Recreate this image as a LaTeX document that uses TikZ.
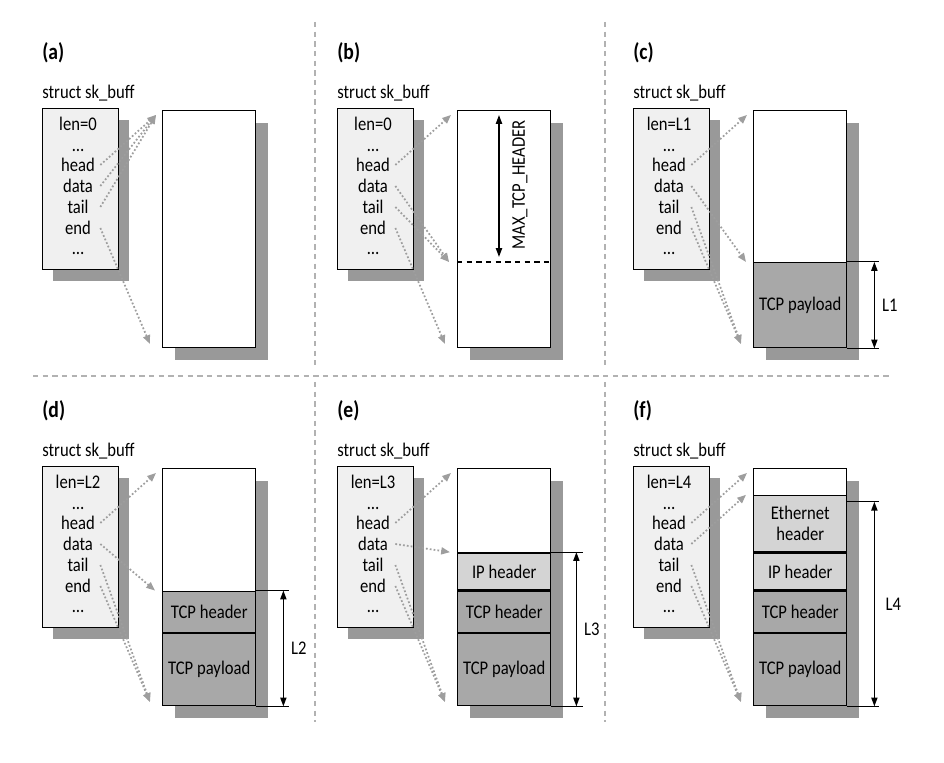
\documentclass[tikz,border=0pt]{standalone}
\usepackage{fontspec}
\setmainfont{Carlito}[FakeStretch=0.86]
\usepackage{xcolor}
\usetikzlibrary{arrows.meta,positioning,shadows}
\definecolor{tcpgray}{HTML}{A8A8A8}
\definecolor{hdrgray}{HTML}{D4D4D4}
\definecolor{skgray}{HTML}{F0F0F0}

\begin{document}
\begin{tikzpicture}[x=0.02cm,y=-0.02cm,font=\fontsize{11}{12}\selectfont,
	structbox/.style={draw,line width=0.8pt,fill=skgray,inner sep=0,anchor=north west,
		minimum width=1.52cm,minimum height=3.22cm,
		drop shadow={shadow xshift=0.2cm,shadow yshift=-0.22cm,fill=black!40,opacity=1}},
	bufbox/.style={draw,line width=0.8pt,fill=white,inner sep=0,anchor=north west,
		minimum width=1.86cm,minimum height=4.74cm,
		drop shadow={shadow xshift=0.25cm,shadow yshift=-0.25cm,fill=black!40,opacity=1}},
	field/.style={inner sep=0,minimum width=0.88cm},
	seg/.style={draw,line width=0.8pt,inner sep=0,anchor=south west,minimum width=1.86cm,align=center},
	tag/.style={font=\bfseries\fontsize{13}{14}\selectfont,anchor=west,inner sep=0},
	capt/.style={anchor=west,inner sep=0},
	lbl/.style={inner sep=0},
	ptr/.style={black!38,line width=1pt,dash pattern=on 1pt off 1.2pt,-{Triangle[length=5pt,width=4pt]}},
	dim/.style={line width=0.8pt,{Triangle[length=5pt,width=3.5pt]}-{Triangle[length=5pt,width=3.5pt]}},
	ext/.style={line width=0.6pt},
	resline/.style={line width=0.9pt,dash pattern=on 3pt off 2.5pt},
	sep/.style={black!30,line width=0.7pt,dash pattern=on 3pt off 2.5pt}]
	\useasboundingbox (0,0) rectangle (944,763);
	
	% panel separators
	\draw[sep] (315,22) -- (315,368);
	\draw[sep] (605,22) -- (605,368);
	\draw[sep] (33,376) -- (893,376);
	\draw[sep] (315,382) -- (315,722);
	\draw[sep] (605,382) -- (605,722);
	
	% struct and data buffer of every panel
	\foreach \p/\dx/\dy/\len in {a/0/0/0,b/295/0/0,c/591/0/L1,d/0/358/L2,e/295/358/L3,f/591/358/L4}{
		\begin{scope}[shift={(\dx,\dy)}]
			\node[tag] (lab\p) at (42,53) {(\p)};
			\node[capt] (cap\p) at (42,93) {struct sk\_buff};
			\node[structbox] (sk\p) at (42,108) {};
			\node[field] (len\p) at (78,124) {len=\len};
			\node[field] (dota\p) at (78,150) {\dots};
			\node[field] (head\p) at (78,165) {head};
			\node[field] (data\p) at (78,186) {data};
			\node[field] (tail\p) at (78,207) {tail};
			\node[field] (end\p) at (78,228) {end};
			\node[field] (dotb\p) at (78,253) {\dots};
			\node[bufbox] (buf\p) at (162,110) {};
			\coordinate (top\p) at (156,115);
			\coordinate (bot\p) at (150,344);
		\end{scope}
	}
	
	% (a) empty buffer
	\draw[ptr] (heada.east) -- (topa);
	\draw[ptr] (dataa.east) -- (topa);
	\draw[ptr] (taila.east) -- (topa);
	\draw[ptr] (enda.east) -- (bota);
	
	% (b) room kept for the headers
	\coordinate (resw) at ([yshift=-3.04cm]bufb.north west);
	\coordinate (rese) at ([yshift=-3.04cm]bufb.north east);
	\draw[resline] (resw) -- (rese);
	\coordinate (mxa) at ([xshift=0.84cm,yshift=-0.1cm]bufb.north west);
	\coordinate (mxb) at ([xshift=0.84cm,yshift=-2.94cm]bufb.north west);
	\draw[dim] (mxa) -- (mxb);
	\node[lbl,rotate=90] (mxl) at ([xshift=1.26cm,yshift=-1.5cm]bufb.north west) {MAX\_TCP\_HEADER};
	\coordinate (midb) at ([xshift=-0.16cm]resw);
	\draw[ptr] (headb.east) -- (topb);
	\draw[ptr] (datab.east) -- (midb);
	\draw[ptr] (tailb.east) -- (midb);
	\draw[ptr] (endb.east) -- (botb);
	
	% (c) payload copied in
	\node[seg,fill=tcpgray,minimum height=1.7cm] (payc) at (bufc.south west) {TCP payload};
	\coordinate (l1t) at ([xshift=0.64cm]payc.north east);
	\coordinate (l1b) at ([xshift=0.64cm]payc.south east);
	\draw[ext] (payc.north east) -- (l1t);
	\draw[ext] (payc.south east) -- (l1b);
	\coordinate (l1x) at ([xshift=0.54cm]payc.north east);
	\coordinate (l1y) at ([xshift=0.54cm]payc.south east);
	\draw[dim] (l1x) -- node[lbl,right=4pt] (l1) {L1} (l1y);
	\coordinate (midc) at ([xshift=-0.14cm]payc.north west);
	\draw[ptr] (headc.east) -- (topc);
	\draw[ptr] (datac.east) -- (midc);
	\draw[ptr] (tailc.east) -- (botc);
	\draw[ptr] (endc.east) -- (botc);
	
	% (d) TCP header pushed
	\node[seg,fill=tcpgray,minimum height=1.44cm] (payd) at (bufd.south west) {TCP payload};
	\node[seg,fill=tcpgray,minimum height=0.82cm] (tcpd) at (payd.north west) {TCP header};
	\coordinate (l2t) at ([xshift=0.66cm]tcpd.north east);
	\coordinate (l2b) at ([xshift=0.66cm]payd.south east);
	\draw[ext] (tcpd.north east) -- (l2t);
	\draw[ext] (payd.south east) -- (l2b);
	\coordinate (l2x) at ([xshift=0.54cm]tcpd.north east);
	\coordinate (l2y) at ([xshift=0.54cm]payd.south east);
	\draw[dim] (l2x) -- node[lbl,right=4pt] (l2) {L2} (l2y);
	\coordinate (midd) at ([xshift=-0.14cm]tcpd.north west);
	\draw[ptr] (headd.east) -- (topd);
	\draw[ptr] (datad.east) -- (midd);
	\draw[ptr] (taild.east) -- (botd);
	\draw[ptr] (endd.east) -- (botd);
	
	% (e) IP header pushed
	\node[seg,fill=tcpgray,minimum height=1.44cm] (paye) at (bufe.south west) {TCP payload};
	\node[seg,fill=tcpgray,minimum height=0.82cm] (tcpe) at (paye.north west) {TCP header};
	\node[seg,fill=hdrgray,minimum height=0.74cm] (ipe) at (tcpe.north west) {IP header};
	\coordinate (l3t) at ([xshift=0.64cm]ipe.north east);
	\coordinate (l3b) at ([xshift=0.64cm]paye.south east);
	\draw[ext] (ipe.north east) -- (l3t);
	\draw[ext] (paye.south east) -- (l3b);
	\coordinate (l3x) at ([xshift=0.5cm]ipe.north east);
	\coordinate (l3y) at ([xshift=0.5cm]paye.south east);
	\draw[dim] (l3x) -- node[lbl,right=4pt] (l3) {L3} (l3y);
	\coordinate (mide) at ([xshift=-0.14cm]ipe.north west);
	\draw[ptr] (heade.east) -- (tope);
	\draw[ptr] (datae.east) -- (mide);
	\draw[ptr] (taile.east) -- (bote);
	\draw[ptr] (ende.east) -- (bote);
	
	% (f) Ethernet header pushed
	\node[seg,fill=tcpgray,minimum height=1.44cm] (payf) at (buff.south west) {TCP payload};
	\node[seg,fill=tcpgray,minimum height=0.82cm] (tcpf) at (payf.north west) {TCP header};
	\node[seg,fill=hdrgray,minimum height=0.74cm] (ipf) at (tcpf.north west) {IP header};
	\node[seg,fill=hdrgray,minimum height=1.12cm] (ethf) at (ipf.north west) {Ethernet\\header};
	\coordinate (l4t) at ([xshift=0.64cm,yshift=-0.14cm]ethf.north east);
	\coordinate (l4b) at ([xshift=0.64cm]payf.south east);
	\draw[ext] ([yshift=-0.14cm]ethf.north east) -- (l4t);
	\draw[ext] (payf.south east) -- (l4b);
	\coordinate (l4x) at ([xshift=0.54cm,yshift=-0.14cm]ethf.north east);
	\coordinate (l4y) at ([xshift=0.54cm]payf.south east);
	\draw[dim] (l4x) -- node[lbl,right=6pt] (l4) {L4} (l4y);
	\coordinate (midf) at ([xshift=-0.14cm]ethf.north west);
	\draw[ptr] (headf.east) -- (topf);
	\draw[ptr] (dataf.east) -- (midf);
	\draw[ptr] (tailf.east) -- (botf);
	\draw[ptr] (endf.east) -- (botf);
\end{tikzpicture}
\end{document}
